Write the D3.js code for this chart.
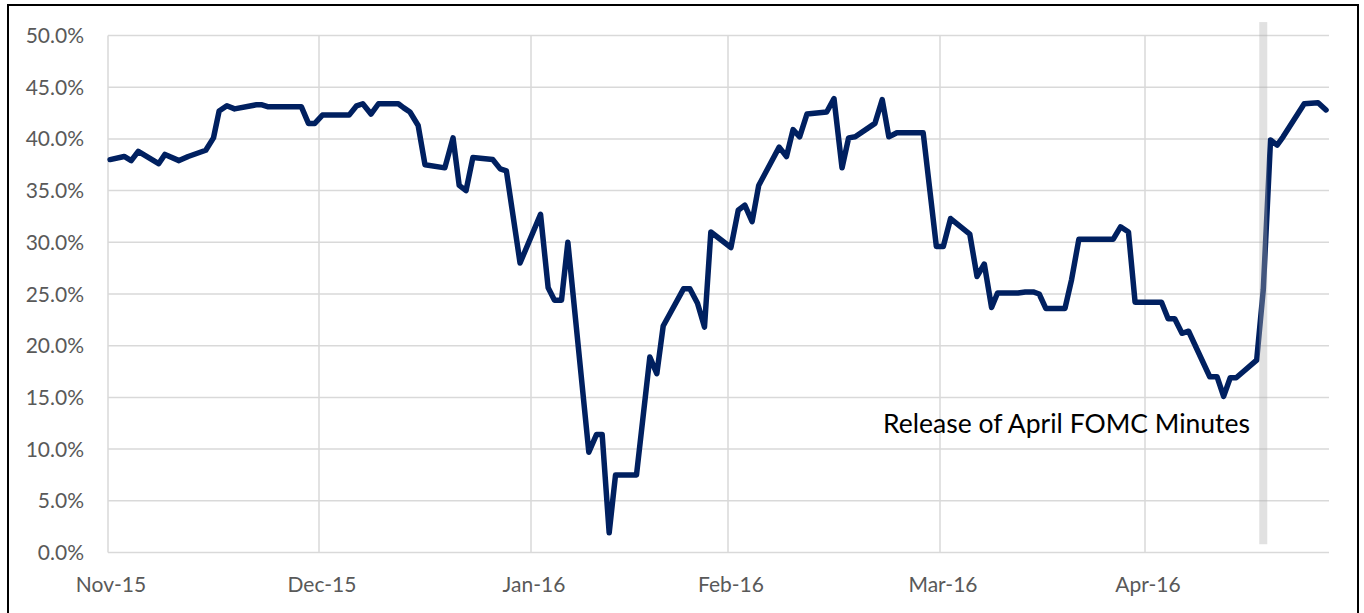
<!DOCTYPE html>
<html>
<head>
<meta charset="utf-8">
<script src="https://cdn.jsdelivr.net/npm/d3@7"></script>
<style>
  html, body { margin: 0; padding: 0; background: #fff; }
  svg { display: block; }
  text { font-family: Lato, "Open Sans", sans-serif; }
</style>
</head>
<body>
<svg id="chart" width="1364" height="613"></svg>
<script>
// ---- data (x = days since 1 Nov 2015, y = probability in %) ----
const daysSinceNov1 = [
  0.3, 2.3, 3.3, 4.3, 7.2, 8.1, 10.1, 11.4, 13.9, 15.0, 15.8, 16.9, 18.0, 21.1, 21.9, 22.8, 27.5, 28.5, 29.4,
  30.5, 34.4, 35.5, 36.4, 37.6, 38.7, 41.6, 42.4, 43.3, 44.5, 45.5, 48.4, 49.6, 50.5, 51.5, 52.5, 55.4, 56.5, 57.4, 59.4,
  62.5, 63.7, 64.7, 65.8, 66.8, 70.1, 71.3, 72.2, 73.3, 74.3, 77.6, 79.7, 80.8, 81.8, 85.0, 86.0, 87.2, 88.3, 89.3,
  92.4, 93.4, 94.3, 95.3, 96.2, 99.0, 100.0, 100.9, 101.8, 102.8, 105.5, 106.5, 107.6, 108.5, 109.4, 112.1, 113.1, 114.0, 115.1, 118.7, 120.5,
  121.5, 122.6, 125.5, 126.6, 127.7, 128.8, 129.7, 132.8, 133.9, 135.1, 136.0, 137.0, 139.9, 140.9, 142.0, 147.2, 148.3, 149.5, 150.5,
  154.5, 155.5, 156.5, 157.6, 158.6, 161.8, 162.9, 163.9, 164.9, 165.8, 168.9, 169.9, 171.0, 172.0, 172.9, 176.1, 178.2, 179.4
];
const hikeProbability = [
  38.0, 38.3, 37.9, 38.8, 37.6, 38.5, 37.9, 38.3, 38.9, 40.1, 42.7, 43.2, 42.9, 43.3, 43.3, 43.1, 43.1, 41.5, 41.5,
  42.3, 42.3, 43.2, 43.4, 42.4, 43.4, 43.4, 43.0, 42.6, 41.3, 37.5, 37.2, 40.1, 35.5, 35.0, 38.2, 38.0, 37.1, 36.9, 28.0,
  32.7, 25.6, 24.4, 24.4, 30.0, 9.7, 11.4, 11.4, 1.9, 7.5, 7.5, 18.9, 17.3, 21.9, 25.5, 25.5, 24.1, 21.8, 31.0,
  29.5, 33.1, 33.6, 32.0, 35.5, 39.2, 38.3, 40.9, 40.2, 42.4, 42.6, 43.9, 37.2, 40.1, 40.2, 41.5, 43.8, 40.2, 40.6, 40.6, 29.6,
  29.6, 32.3, 30.8, 26.7, 27.9, 23.7, 25.1, 25.1, 25.2, 25.2, 25.0, 23.6, 23.6, 26.4, 30.3, 30.3, 31.5, 31.0, 24.2,
  24.2, 22.6, 22.6, 21.2, 21.4, 17.0, 17.0, 15.1, 16.9, 16.9, 18.6, 25.4, 39.9, 39.4, 40.2, 43.4, 43.5, 42.8
];

// axis ticks
const monthTickDays = [0, 30, 61, 92, 121, 152];
const monthTickLabels = ["Nov-15", "Dec-15", "Jan-16", "Feb-16", "Mar-16", "Apr-16"];
const yTickValues = [0, 5, 10, 15, 20, 25, 30, 35, 40, 45, 50];

// event marker
const eventDay = [169.9];
const eventLabel = ["Release of April FOMC Minutes"];

// ---- layout ----
const svg = d3.select("#chart");
const plotTop = 35.5, plotBottom = 552.5;

// the source axis spaces the months unevenly; map month starts to their positions
const x = d3.scaleLinear()
  .domain([0, 30, 61, 92, 121, 152, 180])
  .range([108, 319, 531, 728, 940, 1145, 1330]);
const y = d3.scaleLinear().domain([0, 50]).range([plotBottom, plotTop]);
const plotLeft = x(0), plotRight = 1329;

// outer frame
svg.append("rect")
  .attr("x", 8).attr("y", 5).attr("width", 1350).attr("height", 640)
  .attr("fill", "none").attr("stroke", "#000").attr("stroke-width", 2);

// horizontal gridlines
svg.append("g").selectAll("line").data(yTickValues).join("line")
  .attr("x1", plotLeft).attr("x2", plotRight)
  .attr("y1", d => y(d)).attr("y2", d => y(d))
  .attr("stroke", "#d9d9d9").attr("stroke-width", 1.5);

// vertical gridlines
svg.append("g").selectAll("line").data(monthTickDays).join("line")
  .attr("x1", d => x(d)).attr("x2", d => x(d))
  .attr("y1", plotTop).attr("y2", plotBottom)
  .attr("stroke", "#d9d9d9").attr("stroke-width", 1.5);

// y labels
svg.append("g").selectAll("text").data(yTickValues).join("text")
  .attr("x", 84).attr("y", d => y(d))
  .attr("dy", "0.36em")
  .attr("text-anchor", "end")
  .attr("fill", "#595959")
  .attr("font-size", 21)
  .text(d => d3.format(".1f")(d) + "%");

// x labels
svg.append("g").selectAll("text").data(monthTickDays).join("text")
  .attr("x", d => x(d) + 3).attr("y", 592)
  .attr("text-anchor", "middle")
  .attr("fill", "#595959")
  .attr("font-size", 21)
  .text((d, i) => monthTickLabels[i]);

// series line
const pts = daysSinceNov1.map((d, i) => [d, hikeProbability[i]]);
svg.append("path")
  .datum(pts)
  .attr("fill", "none")
  .attr("stroke", "#002060")
  .attr("stroke-width", 5.5)
  .attr("stroke-linejoin", "round")
  .attr("stroke-linecap", "round")
  .attr("d", d3.line().x(d => x(d[0])).y(d => y(d[1])));

// event bar (drawn over the line, semi-transparent)
svg.append("g").selectAll("rect").data(eventDay).join("rect")
  .attr("x", d => x(d) - 4).attr("width", 8)
  .attr("y", y(51.3)).attr("height", y(0.8) - y(51.3))
  .attr("fill", "#b0b0b0").attr("fill-opacity", 0.38);

// event label
svg.append("text")
  .attr("x", 1250).attr("y", 433)
  .attr("text-anchor", "end")
  .attr("fill", "#000")
  .attr("font-size", 26.5)
  .text(eventLabel[0]);
</script>
</body>
</html>
